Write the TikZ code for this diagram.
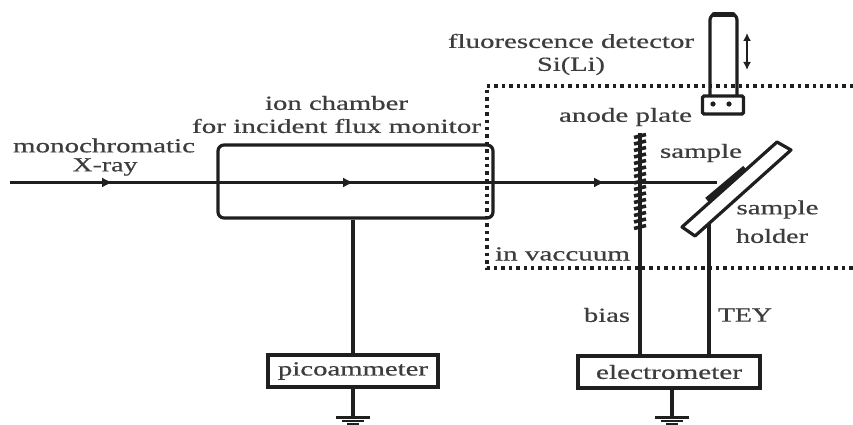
\documentclass[tikz,border=0pt]{standalone}
\usepackage{graphicx}
\usepackage{fontspec}
\setmainfont{Liberation Serif}[FakeBold=0.5]
\usetikzlibrary{arrows.meta}
\definecolor{ink}{gray}{0.12}
\definecolor{txt}{gray}{0.24}
\newcommand{\lbl}[2]{\resizebox{#1pt}{\height}{#2}}
\tikzset{
  wire/.style={draw=ink,line width=3.2pt},
  beam/.style={draw=ink,line width=2.4pt,-{Latex[length=11pt,width=10pt]}},
  plainbeam/.style={draw=ink,line width=2.4pt},
  meter/.style={draw=ink,line width=3.2pt,fill=white,rectangle,inner sep=0pt,font=\fontsize{20}{20}\selectfont,text=txt},
  tag/.style={inner sep=0pt,font=\fontsize{20}{20}\selectfont,text=txt},
  vac/.style={draw=ink,line width=3.4pt,dash pattern=on 3.4pt off 4pt},
}
\begin{document}
\begin{tikzpicture}[x=1pt,y=-1pt]
\useasboundingbox (0,0) rectangle (853,425);
% vacuum frame
\draw[vac] (853,86) -- (487,86) -- (487,268) -- (853,268);
% ion chamber
\node[draw=ink,line width=3.2pt,rounded corners=6pt,minimum width=275pt,minimum height=73pt,inner sep=0pt] (chamber) at (355.5,181.5) {};
% beam
\coordinate (src) at (10,182.5);
\coordinate (a1) at (113,182.5);
\coordinate (a2) at (354,182.5);
\coordinate (a3) at (605,182.5);
\coordinate (end) at (717,182.5);
\draw[plainbeam] (src) -- (end);
\draw[beam] ([xshift=-12pt]a1) -- (a1);
\draw[beam] ([xshift=-12pt]a2) -- (a2);
\draw[beam] ([xshift=-12pt]a3) -- (a3);
% meters
\node[meter,minimum width=170pt,minimum height=32pt] (pico) at (353,371) {\lbl{150}{picoammeter}};
\node[meter,minimum width=182pt,minimum height=32pt] (elec) at (669,372) {\lbl{146}{electrometer}};
% anode plate
\coordinate (atop) at (640,133);
\coordinate (abot) at (640,235);
\draw[line width=3.4pt,draw=ink] (atop) -- (abot);
\foreach \y in {136,142.5,...,232}
  \draw[line width=3.6pt,draw=ink] (634,\y+1.5) -- (646,\y-1.5);
\draw[wire] (abot) -- (abot |- elec.north);
% sample holder
\draw[wire,fill=white,line join=round] (682,227) coordinate (h1) -- (777,142) -- (791,150) -- (695,236) coordinate (h2) -- cycle;
\draw[line width=5.5pt,draw=ink] (707,200) -- (745,168);
\coordinate (htap) at (709,223);
\draw[wire] (htap) -- (htap |- elec.north);
% chamber to picoammeter
\draw[wire] (chamber.south -| pico.north) -- (pico.north);
% grounds
\coordinate (g1) at (353,417);
\coordinate (g2) at (672,417);
\draw[wire] (pico.south) -- (g1);
\draw[wire] (elec.south -| g2) -- (g2);
\foreach \g in {g1,g2}{
  \draw[line width=3pt,draw=ink] ([xshift=-17pt]\g) -- ([xshift=17pt]\g);
  \draw[line width=2.6pt,draw=ink] ([xshift=-11pt,yshift=-4pt]\g) -- ([xshift=11pt,yshift=-4pt]\g);
  \draw[line width=2.6pt,draw=ink] ([xshift=-6pt,yshift=-7.5pt]\g) -- ([xshift=6pt,yshift=-7.5pt]\g);
}
% detector
\draw[wire,rounded corners=6pt] (710,97) -- (710,14) -- (737,14) -- (737,97);
\draw[line width=5.5pt,draw=ink,line cap=round] (714,14.5) -- (733,14.5);
\node[draw=ink,line width=3.2pt,rounded corners=1.5pt,minimum width=41pt,minimum height=18pt,inner sep=0pt,fill=white] (head) at (723,105) {};
\fill[ink] (713,104) circle (2.6pt) (729,104) circle (2.6pt);
\coordinate (mv1) at (747,33);
\coordinate (mv2) at (747,70);
\draw[draw=ink,line width=2.4pt,{Latex[length=8pt,width=8pt]}-{Latex[length=8pt,width=8pt]}] (mv1) -- (mv2);
% labels
\node[tag] (l1) at (104,145.5) {\lbl{182}{monochromatic}};
\node[tag] (l2) at (105,167) {\lbl{65}{X-ray}};
\node[tag] (l3) at (336.5,103) {\lbl{143}{ion chamber}};
\node[tag] (l4) at (336.5,126) {\lbl{289}{for incident flux monitor}};
\node[tag] (l5) at (571,41) {\lbl{246}{fluorescence detector}};
\node[tag] (l6) at (571,66) {\lbl{68}{Si(Li)}};
\node[tag] (l7) at (625.5,117) {\lbl{133}{anode plate}};
\node[tag] (l8) at (701,153) {\lbl{82}{sample}};
\node[tag] (l9) at (777.5,209.5) {\lbl{82}{sample}};
\node[tag] (l10) at (772,236) {\lbl{72}{holder}};
\node[tag] (l11) at (562.5,254) {\lbl{135}{in vaccuum}};
\node[tag] (l12) at (607,315) {\lbl{46}{bias}};
\node[tag] (l13) at (745,315) {\lbl{54}{TEY}};
\end{tikzpicture}
\end{document}
